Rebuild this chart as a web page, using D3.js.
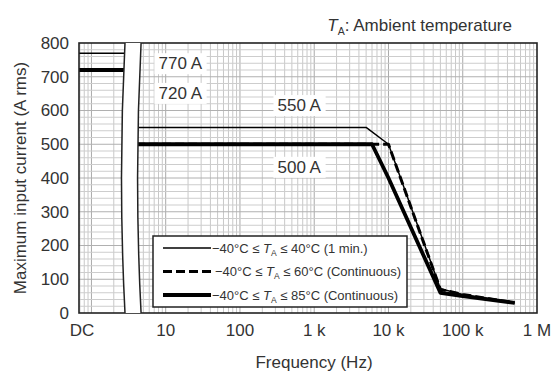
<!DOCTYPE html>
<html>
<head>
<meta charset="utf-8">
<script src="https://cdn.jsdelivr.net/npm/d3@7"></script>
<style>
  body { margin: 0; background: #fff; }
  svg { display: block; font-family: "Liberation Sans", Arial, sans-serif; }
</style>
</head>
<body>
<svg id="chart" width="557" height="383"></svg>
<script>
// frequency axis: "DC" at the left end, then decades 10 .. 1 M
const xTickValues = [0.68, 10, 100, 1e3, 1e4, 1e5, 1e6];
const xTickLabels = ['DC', '10', '100', '1 k', '10 k', '100 k', '1 M'];
const yTickValues = [0, 100, 200, 300, 400, 500, 600, 700, 800];

// axis break sits between these two frequencies
const breakFreqs = [2.83, 4.66];

// DC region (left of the break)
const dcFreq = [0.68, 3.4];
const dc1min = [770, 770];
const dc60 = [720, 720];
const dc85 = [720, 720];

// AC region (right of the break)
const freq1min = [4, 5000, 10000, 50000, 100000, 500000];
const val1min = [550, 550, 500, 72, 55, 30];
const freq60 = [4, 10000, 50000, 100000, 500000];
const val60 = [500, 500, 70, 55, 30];
const freq85 = [4, 6000, 10000, 50000, 100000, 500000];
const val85 = [500, 500, 400, 60, 50, 30];

// value callouts
const noteText = ['770 A', '720 A', '550 A', '500 A'];
const noteFreq = [8, 8, 320, 320];
const noteVal = [740, 652, 616, 433];

const legendText = [
  ['\u221240\u00b0C \u2264 ', '\u2264 40\u00b0C (1 min.)'],
  ['\u221240\u00b0C \u2264 ', '\u2264 60\u00b0C (Continuous)'],
  ['\u221240\u00b0C \u2264 ', '\u2264 85\u00b0C (Continuous)']
];

const width = 557, height = 383;
const margin = { top: 43, right: 20, bottom: 70, left: 79 };
const textCol = '#333';
const fs = 17;

const svg = d3.select('#chart');

const x = d3.scaleLog().domain([0.68, 1e6]).range([margin.left, width - margin.right]);
const y = d3.scaleLinear().domain([0, 800]).range([height - margin.bottom, margin.top]);

const [x0, x1] = x.range();
const [y0, y1] = y.range();

// grid
const vLines = [];
for (let k = -1; k <= 5; k++) {
  for (let d = 1; d <= 9; d++) {
    const v = d * Math.pow(10, k);
    if (v > 0.68 && v < 1e6) vLines.push({ v, major: d === 1 });
  }
}
const hLines = d3.range(20, 800, 20).map(v => ({ v, major: v % 100 === 0 }));

const grid = svg.append('g');
grid.selectAll('.gv').data(vLines).enter().append('line')
    .attr('x1', d => x(d.v)).attr('x2', d => x(d.v))
    .attr('y1', y1).attr('y2', y0)
    .attr('stroke', d => d.major ? '#a9a9a9' : '#c8c8c8')
    .attr('stroke-width', 1);
grid.selectAll('.gh').data(hLines).enter().append('line')
    .attr('x1', x0).attr('x2', x1)
    .attr('y1', d => y(d.v)).attr('y2', d => y(d.v))
    .attr('stroke', d => d.major ? '#b0b0b0' : '#cdcdcd')
    .attr('stroke-width', 1);

// annotations with white backing
const notes = svg.append('g');
noteText.forEach((t, i) => {
  const g = notes.append('g');
  const txt = g.append('text')
      .attr('x', x(noteFreq[i])).attr('y', y(noteVal[i]))
      .attr('dy', '0.35em')
      .attr('font-size', fs).attr('fill', textCol)
      .text(t);
  const bb = txt.node().getBBox();
  g.insert('rect', 'text')
      .attr('x', bb.x - 4).attr('y', bb.y - 1)
      .attr('width', bb.width + 8).attr('height', bb.height + 2)
      .attr('fill', '#fff');
});

// series
const line = d3.line().x(d => x(d[0])).y(d => y(d[1]));
const styles = [
  { w: 1.5, dash: null },
  { w: 3, dash: '9,4' },
  { w: 3.8, dash: null }
];
const series = [
  { f: freq1min, v: val1min, dcv: dc1min, s: styles[0] },
  { f: freq60, v: val60, dcv: dc60, s: styles[1] },
  { f: freq85, v: val85, dcv: dc85, s: styles[2] }
];
const lines = svg.append('g');
series.forEach(sr => {
  const parts = [d3.zip(dcFreq, sr.dcv), d3.zip(sr.f, sr.v)];
  parts.forEach(p => {
    lines.append('path')
        .attr('d', line(p))
        .attr('fill', 'none')
        .attr('stroke', '#000')
        .attr('stroke-width', sr.s.w)
        .attr('stroke-dasharray', sr.s.dash)
        .attr('stroke-linejoin', 'round');
  });
});

// frame
svg.append('rect')
    .attr('x', x0).attr('y', y1)
    .attr('width', x1 - x0).attr('height', y0 - y1)
    .attr('fill', 'none').attr('stroke', '#222').attr('stroke-width', 1.6);

// axis break band with curved edges
const bl = x(breakFreqs[0]), br = x(breakFreqs[1]);
const bow = 7;
const ym = (y0 + y1) / 2;
svg.append('path')
    .attr('d', `M${bl},${y1} Q${bl - bow},${ym} ${bl},${y0} L${br},${y0} Q${br - bow},${ym} ${br},${y1} Z`)
    .attr('fill', '#fff').attr('stroke', 'none');
[bl, br].forEach(bx => {
  svg.append('path')
      .attr('d', `M${bx},${y1} Q${bx - bow},${ym} ${bx},${y0}`)
      .attr('fill', 'none').attr('stroke', '#222').attr('stroke-width', 1.5);
});

// legend
const lg = svg.append('g');
const lgX = 153, lgY = 236, lgW = 254, lgH = 71;
lg.append('rect')
    .attr('x', lgX).attr('y', lgY).attr('width', lgW).attr('height', lgH)
    .attr('fill', '#fff').attr('stroke', '#222').attr('stroke-width', 1.5);
legendText.forEach((t, i) => {
  const ly = lgY + 12 + i * 23.5;
  lg.append('line')
      .attr('x1', lgX + 10).attr('x2', lgX + 58)
      .attr('y1', ly).attr('y2', ly)
      .attr('stroke', '#000')
      .attr('stroke-width', styles[i].w)
      .attr('stroke-dasharray', styles[i].dash);
  const tx = lg.append('text')
      .attr('x', lgX + (i === 1 ? 62 : 59)).attr('y', ly).attr('dy', '0.35em')
      .attr('font-size', 13).attr('fill', textCol);
  tx.append('tspan').text(t[0]);
  tx.append('tspan').attr('font-style', 'italic').text('T');
  tx.append('tspan').attr('font-size', 8.5).attr('dy', 3).text('A');
  tx.append('tspan').attr('dy', -3).text(' ' + t[1]);
});

// y axis labels
svg.append('g').selectAll('text').data(yTickValues).enter().append('text')
    .attr('x', x0 - 10).attr('y', d => y(d)).attr('dy', '0.35em')
    .attr('text-anchor', 'end').attr('font-size', fs).attr('fill', textCol)
    .text(d => d);

// x axis labels
svg.append('g').selectAll('text').data(xTickValues).enter().append('text')
    .attr('x', (d, i) => x(d) + (i === 0 ? 3 : 0)).attr('y', y0 + 17).attr('dy', '0.35em')
    .attr('text-anchor', 'middle').attr('font-size', fs).attr('fill', textCol)
    .text((d, i) => xTickLabels[i]);

// axis titles
svg.append('text')
    .attr('x', (x0 + x1) / 2 + 6).attr('y', 362).attr('dy', '0.35em')
    .attr('text-anchor', 'middle').attr('font-size', fs).attr('fill', textCol)
    .text('Frequency (Hz)');
svg.append('text')
    .attr('transform', `translate(20,${(y0 + y1) / 2}) rotate(-90)`)
    .attr('dy', '0.35em')
    .attr('text-anchor', 'middle').attr('font-size', fs).attr('fill', textCol)
    .text('Maximum input current (A rms)');

// ambient temperature note
const tt = svg.append('text')
    .attr('x', 512).attr('y', 25).attr('dy', '0.35em')
    .attr('text-anchor', 'end').attr('font-size', fs).attr('fill', textCol);
tt.append('tspan').attr('font-style', 'italic').text('T');
tt.append('tspan').attr('font-size', 10.5).attr('dy', 4).text('A');
tt.append('tspan').attr('dy', -4).text(': Ambient temperature');
</script>
</body>
</html>
